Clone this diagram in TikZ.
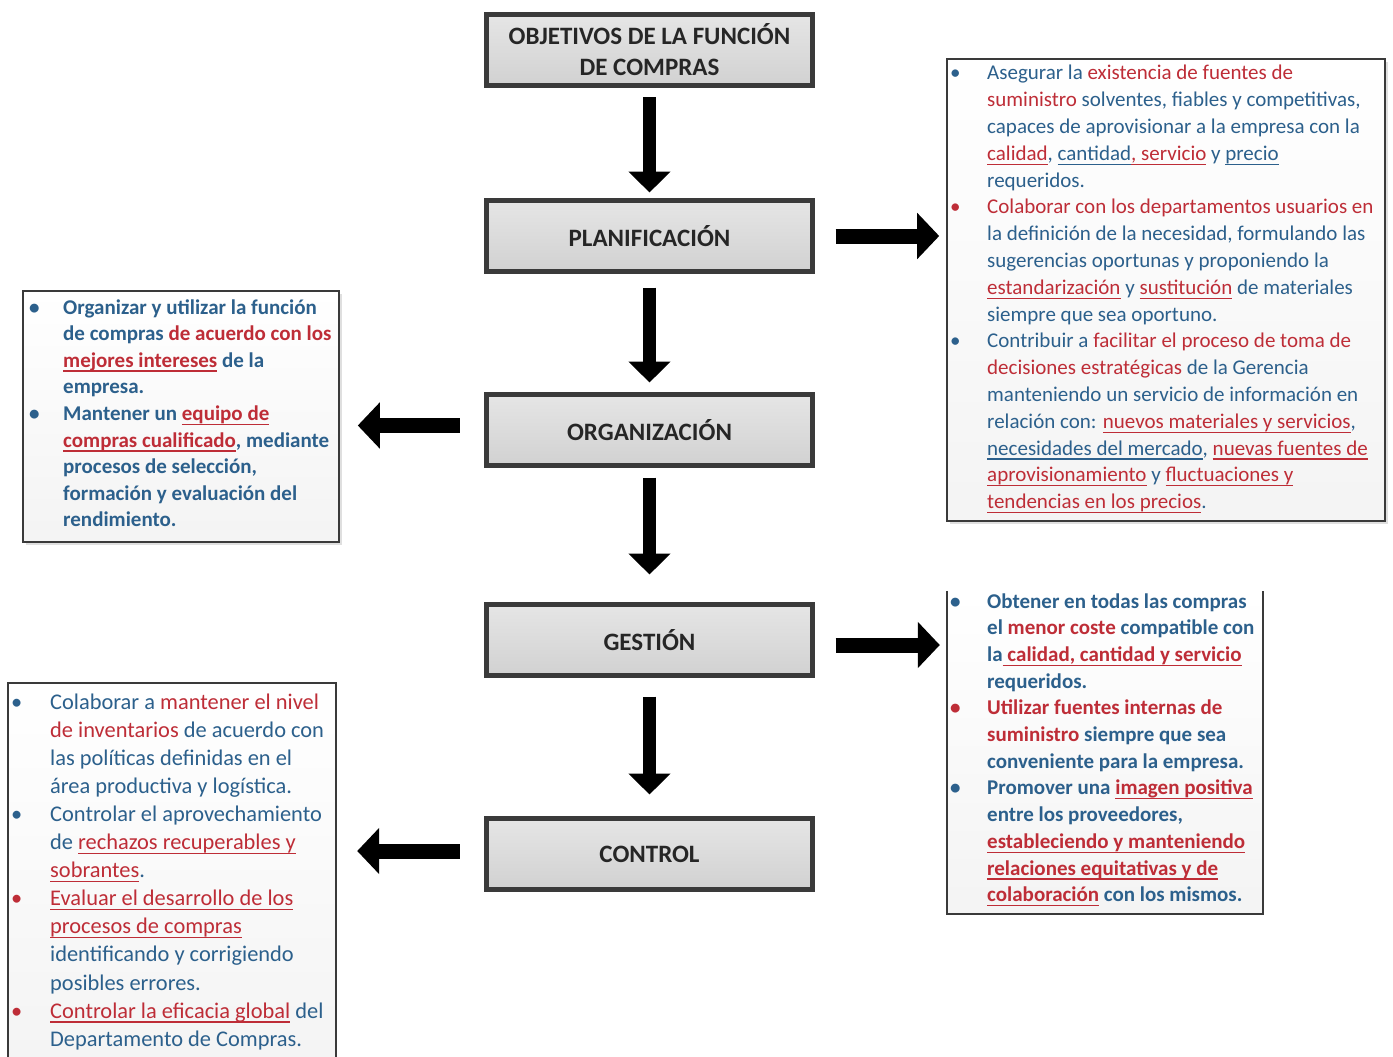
\documentclass[tikz,border=0pt]{standalone}
\usepackage{fontspec}
\setmainfont{Carlito}
\usetikzlibrary{arrows.meta,shadows}
\definecolor{bl}{RGB}{44,96,140}
\definecolor{rd}{RGB}{190,45,55}
\definecolor{boxline}{RGB}{58,58,58}
\newcommand\myul[1]{\setbox0\hbox{#1}\rlap{\rule[-4.5pt]{\wd0}{1.3pt}}\box0}
\newcommand\blu[1]{\textcolor{bl}{#1}}
\newcommand\rdd[1]{\textcolor{rd}{#1}}
\newcommand\bluu[1]{\textcolor{bl}{\myul{#1}}}
\newcommand\rddu[1]{\textcolor{rd}{\myul{#1}}}
\newcommand\bb{\textcolor{bl}{\textbullet}}
\newcommand\rb{\textcolor{rd}{\textbullet}}
\begin{document}
\begin{tikzpicture}[x=1pt,y=-1pt,
  mainbox/.style={draw=boxline, line width=5pt, top color=gray!20, bottom color=gray!36,
    minimum width=326pt, minimum height=71pt, inner sep=0pt,
    font=\fontsize{25}{31}\selectfont\bfseries, text=black!85, align=center,
    drop shadow={shadow xshift=2pt, shadow yshift=-2pt, opacity=0.2, fill=gray}},
  infobox/.style={draw=boxline, line width=1.6pt, top color=white, bottom color=gray!9, inner sep=0pt},
  openbox/.style={draw=none, top color=white, bottom color=gray!9, inner sep=0pt},
  sidebox/.style={draw=boxline, line width=1.6pt},
  txt/.style={anchor=base west, inner sep=0pt},
  hblock/.style={line width=15pt, -{Triangle[width=45pt,length=22pt]}},
  vblock/.style={line width=13pt, -{Triangle[width=41pt,length=21pt]}},
]
\useasboundingbox (0,0) rectangle (1393,1057);
\fill[white] (0,0) rectangle (1393,1057);

% central boxes
\node[mainbox] (obj) at (649.5,50) {OBJETIVOS DE LA FUNCIÓN\\DE COMPRAS};
\node[mainbox] (plan) at (649.5,236) {PLANIFICACIÓN};
\node[mainbox] (org) at (649.5,430) {ORGANIZACIÓN};
\node[mainbox] (gest) at (649.5,640) {GESTIÓN};
\node[mainbox] (ctrl) at (649.5,854) {CONTROL};

% side boxes
\node[infobox, minimum width=438pt, minimum height=462pt,
  drop shadow={shadow xshift=3pt, shadow yshift=-3pt, opacity=0.25, fill=gray}] (r1) at (1166,290) {};
\node[infobox, minimum width=316pt, minimum height=251pt,
  drop shadow={shadow xshift=3pt, shadow yshift=-3pt, opacity=0.25, fill=gray}] (l1) at (181,416.5) {};
\node[openbox, minimum width=316pt, minimum height=323pt] (r2) at (1105,752.5) {};
\draw[sidebox] (r2.north west) -- (r2.south west) -- (r2.south east) -- (r2.north east);
\node[openbox, minimum width=328pt, minimum height=390pt] (l2) at (172,878) {};
\draw[sidebox] (l2.south west) -- (l2.north west) -- (l2.north east) -- (l2.south east);

% texts
\node[txt] (r1t) at (950,80) {\fontsize{21}{26.8}\selectfont
\begin{tabular}[t]{@{}p{37pt}@{}l@{}}
\bb & \blu{Asegurar la} \rdd{existencia de fuentes de}\\
& \rdd{suministro} \blu{solventes, fiables y competitivas,}\\
& \blu{capaces de aprovisionar a la empresa con la}\\
& \rddu{calidad}\blu{,} \bluu{cantidad}\rddu{, servicio} \blu{y} \bluu{precio}\\
& \blu{requeridos.}\\
\rb & \rdd{Colaborar con los departamentos usuarios en}\\
& \blu{la definición de la necesidad, formulando las}\\
& \blu{sugerencias oportunas y proponiendo la}\\
& \rddu{estandarización} \blu{y} \rddu{sustitución} \blu{de materiales}\\
& \blu{siempre que sea oportuno.}\\
\bb & \blu{Contribuir a} \rdd{facilitar el proceso de toma de}\\
& \rdd{decisiones estratégicas} \blu{de la Gerencia}\\
& \blu{manteniendo un servicio de información en}\\
& \blu{relación con:} \rddu{nuevos materiales y servicios}\blu{,}\\
& \bluu{necesidades del mercado}\blu{,} \rddu{nuevas fuentes de}\\
& \rddu{aprovisionamiento} \blu{y} \rddu{fluctuaciones y}\\
& \rddu{tendencias en los precios}\blu{.}
\end{tabular}};

\node[txt] (l1t) at (29,314) {\fontsize{21}{26.6}\selectfont\bfseries
\begin{tabular}[t]{@{}p{34pt}@{}l@{}}
\bb & \blu{Organizar y utilizar la función}\\
& \blu{de compras} \rdd{de acuerdo con los}\\
& \rddu{mejores intereses} \blu{de la}\\
& \blu{empresa.}\\
\bb & \blu{Mantener un} \rddu{equipo de}\\
& \rddu{compras cualificado}\blu{, mediante}\\
& \blu{procesos de selección,}\\
& \blu{formación y evaluación del}\\
& \blu{rendimiento.}
\end{tabular}};

\node[txt] (r2t) at (950,608) {\fontsize{21}{26.7}\selectfont\bfseries
\begin{tabular}[t]{@{}p{37pt}@{}l@{}}
\bb & \blu{Obtener en todas las compras}\\
& \blu{el} \rdd{menor coste} \blu{compatible con}\\
& \blu{la}\rddu{ calidad, cantidad y servicio}\\
& \blu{requeridos.}\\
\rb & \rdd{Utilizar fuentes internas de}\\
& \rdd{suministro} \blu{siempre que sea}\\
& \blu{conveniente para la empresa.}\\
\bb & \blu{Promover una} \rddu{imagen positiva}\\
& \blu{entre los proveedores,}\\
& \rddu{estableciendo y manteniendo}\\
& \rddu{relaciones equitativas y de}\\
& \rddu{colaboración} \blu{con los mismos.}
\end{tabular}};

\node[txt] (l2t) at (11,709) {\fontsize{22.4}{28.1}\selectfont
\begin{tabular}[t]{@{}p{39pt}@{}l@{}}
\bb & \blu{Colaborar a} \rdd{mantener el nivel}\\
& \rdd{de inventarios} \blu{de acuerdo con}\\
& \blu{las políticas definidas en el}\\
& \blu{área productiva y logística.}\\
\bb & \blu{Controlar el aprovechamiento}\\
& \blu{de} \rddu{rechazos recuperables y}\\
& \rddu{sobrantes}\blu{.}\\
\rb & \rddu{Evaluar el desarrollo de los}\\
& \rddu{procesos de compras}\\
& \blu{identificando y corrigiendo}\\
& \blu{posibles errores.}\\
\rb & \rddu{Controlar la eficacia global} \blu{del}\\
& \blu{Departamento de Compras.}
\end{tabular}};

% vertical arrows
\draw[vblock, shorten <=9.5pt, shorten >=5.5pt] (obj.south) -- (plan.north);
\draw[vblock, shorten <=13.5pt, shorten >=9.5pt] (plan.south) -- (org.north);
\draw[vblock, shorten <=9.5pt, shorten >=27.5pt] (org.south) -- (gest.north);
\draw[vblock, shorten <=18.5pt, shorten >=21.5pt] (gest.south) -- (ctrl.north);

% horizontal arrows
\draw[hblock, shorten <=20.5pt, shorten >=7pt] (plan.east) -- (plan.east -| r1.west);
\draw[hblock, shorten <=20.5pt, shorten >=7pt] ([yshift=-5pt]gest.east) -- ([yshift=-5pt]gest.east -| r2.west);
\draw[hblock, shorten <=24.5pt, shorten >=18pt] ([yshift=4.5pt]org.west) -- ([yshift=4.5pt]org.west -| l1.east);
\draw[hblock, shorten <=24.5pt, shorten >=21pt] ([yshift=3pt]ctrl.west) -- ([yshift=3pt]ctrl.west -| l2.east);
\end{tikzpicture}
\end{document}
